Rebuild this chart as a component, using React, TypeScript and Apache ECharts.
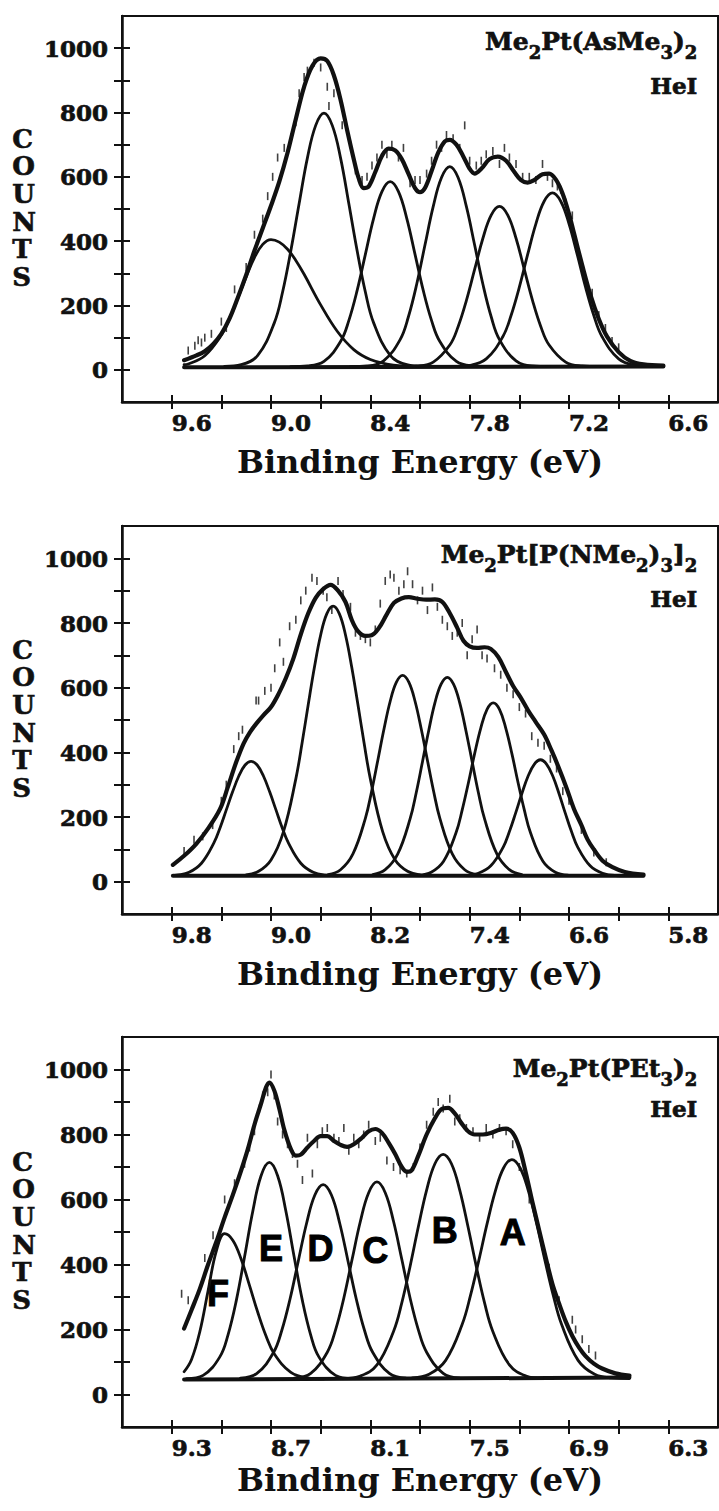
import React, { useEffect, useRef } from 'react';
import * as echarts from 'echarts';

type Pt = [number, number];

const INK = '#111111';
const SERIF = '"DejaVu Serif", "Liberation Serif", serif';
const SANS = '"Liberation Sans", Arial, sans-serif';

// ---------------- common axis values ----------------
const yTickValues = [0, 100, 200, 300, 400, 500, 600, 700, 800, 900, 1000];
const yLabelValues = [0, 200, 400, 600, 800, 1000];

// ---------------- Panel 1 : Me2Pt(AsMe3)2 ----------------
const p1Formula = '{m|Me}{s|2}{m|Pt(AsMe}{s|3}{m|)}{s|2}';
const p1XTicks = [6.6, 6.9, 7.2, 7.5, 7.8, 8.1, 8.4, 8.7, 9.0, 9.3, 9.6];
const p1XLabels = [6.6, 7.2, 7.8, 8.4, 9.0, 9.6];
const p1Baseline: Pt[] = [[9.525, 8], [6.63, 10]];
const p1Band1: Pt[] = [[9.525, 16], [9.5, 18], [9.4, 44], [9.3, 108], [9.25, 160], [9.2, 223], [9.15, 289], [9.1, 349], [9.05, 390], [9.0, 405], [8.95, 397], [8.9, 375], [8.85, 340], [8.8, 297], [8.7, 202], [8.6, 120], [8.5, 63], [8.4, 32], [8.3, 18], [8.2, 12], [8.1, 10]];
const p1Band2: Pt[] = [[9.28, 11], [9.18, 16], [9.08, 45], [8.98, 146], [8.93, 242], [8.88, 371], [8.83, 517], [8.78, 659], [8.73, 760], [8.68, 798], [8.63, 760], [8.58, 659], [8.53, 517], [8.48, 371], [8.43, 242], [8.38, 146], [8.28, 45], [8.18, 16], [8.08, 11]];
const p1Band3: Pt[] = [[8.88, 10], [8.78, 12], [8.68, 26], [8.58, 88], [8.53, 153], [8.48, 246], [8.43, 359], [8.38, 471], [8.33, 554], [8.28, 585], [8.23, 554], [8.18, 471], [8.13, 359], [8.08, 246], [8.03, 153], [7.98, 88], [7.88, 26], [7.78, 12], [7.68, 10]];
const p1Band4: Pt[] = [[8.52, 10], [8.42, 12], [8.32, 28], [8.22, 94], [8.17, 165], [8.12, 266], [8.07, 388], [8.02, 508], [7.97, 598], [7.92, 632], [7.87, 598], [7.82, 508], [7.77, 388], [7.72, 266], [7.67, 165], [7.62, 94], [7.52, 28], [7.42, 12], [7.32, 10]];
const p1Band5: Pt[] = [[8.22, 10], [8.12, 12], [8.02, 24], [7.92, 77], [7.87, 134], [7.82, 215], [7.77, 312], [7.72, 409], [7.67, 481], [7.62, 508], [7.57, 481], [7.52, 409], [7.47, 312], [7.42, 215], [7.37, 134], [7.32, 77], [7.22, 24], [7.12, 12], [7.02, 10]];
const p1Band6: Pt[] = [[7.9, 10], [7.8, 14], [7.7, 34], [7.6, 103], [7.55, 169], [7.5, 257], [7.45, 358], [7.4, 454], [7.35, 524], [7.3, 550], [7.25, 524], [7.2, 454], [7.15, 358], [7.1, 257], [7.05, 169], [7.0, 103], [6.9, 34], [6.8, 14], [6.7, 10]];
const p1Envelope: Pt[] = [[9.525, 30], [9.45, 45], [9.4, 58], [9.35, 80], [9.3, 112], [9.25, 160], [9.2, 225], [9.15, 295], [9.1, 370], [9.05, 440], [9.0, 510], [8.95, 585], [8.9, 675], [8.85, 780], [8.8, 880], [8.75, 945], [8.7, 968], [8.66, 960], [8.62, 915], [8.58, 840], [8.54, 745], [8.5, 655], [8.47, 595], [8.44, 565], [8.41, 570], [8.37, 615], [8.33, 665], [8.29, 688], [8.25, 682], [8.21, 655], [8.17, 610], [8.13, 565], [8.1, 552], [8.07, 565], [8.03, 618], [7.99, 675], [7.95, 710], [7.92, 715], [7.88, 700], [7.84, 665], [7.8, 625], [7.77, 610], [7.73, 625], [7.68, 655], [7.63, 663], [7.58, 650], [7.53, 615], [7.49, 590], [7.45, 582], [7.41, 590], [7.36, 608], [7.32, 610], [7.28, 592], [7.24, 550], [7.2, 485], [7.17, 425], [7.12, 325], [7.07, 232], [7.02, 158], [6.97, 103], [6.9, 55], [6.83, 28], [6.75, 17], [6.63, 13]];
const p1Counts: Pt[] = [[9.5, 60], [9.46, 75], [9.44, 92], [9.42, 85], [9.4, 100], [9.36, 112], [9.3, 150], [9.27, 130], [9.22, 250], [9.15, 320], [9.1, 420], [9.05, 470], [9.02, 540], [8.99, 600], [8.96, 660], [8.92, 690], [8.88, 722], [8.85, 770], [8.83, 860], [8.8, 910], [8.78, 930], [8.74, 955], [8.7, 940], [8.66, 880], [8.65, 820], [8.62, 860], [8.57, 760], [8.52, 700], [8.49, 620], [8.45, 590], [8.42, 600], [8.39, 635], [8.36, 660], [8.33, 700], [8.3, 670], [8.27, 700], [8.23, 660], [8.2, 690], [8.16, 580], [8.13, 590], [8.1, 590], [8.06, 610], [8.03, 650], [8.0, 700], [7.97, 690], [7.94, 730], [7.9, 720], [7.86, 690], [7.83, 760], [7.8, 650], [7.76, 635], [7.73, 650], [7.7, 670], [7.66, 680], [7.62, 640], [7.59, 690], [7.56, 660], [7.52, 640], [7.48, 600], [7.44, 600], [7.4, 590], [7.36, 640], [7.33, 600], [7.3, 580], [7.27, 570], [7.25, 560], [7.22, 520], [7.18, 480], [7.15, 380], [7.11, 300], [7.06, 240], [7.02, 170], [6.98, 130], [6.94, 90], [6.9, 70]];

// ---------------- Panel 2 : Me2Pt[P(NMe2)3]2 ----------------
const p2Formula = '{m|Me}{s|2}{m|Pt[P(NMe}{s|2}{m|)}{s|3}{m|]}{s|2}';
const p2XTicks = [5.8, 6.2, 6.6, 7.0, 7.4, 7.8, 8.2, 8.6, 9.0, 9.4, 9.8];
const p2XLabels = [5.8, 6.6, 7.4, 8.2, 9.0, 9.8];
const p2Baseline: Pt[] = [[9.79, 18], [6.0, 18]];
const p2Band1: Pt[] = [[9.79, 19], [9.76, 20], [9.66, 29], [9.56, 57], [9.46, 120], [9.41, 167], [9.36, 222], [9.31, 277], [9.26, 326], [9.21, 360], [9.16, 372], [9.11, 360], [9.06, 326], [9.01, 277], [8.96, 222], [8.91, 167], [8.86, 120], [8.76, 57], [8.66, 29], [8.56, 20], [8.46, 18]];
const p2Band2: Pt[] = [[9.2, 21], [9.1, 32], [9.0, 67], [8.9, 154], [8.8, 318], [8.75, 428], [8.7, 548], [8.65, 664], [8.6, 763], [8.55, 829], [8.5, 852], [8.45, 829], [8.4, 763], [8.35, 664], [8.3, 548], [8.25, 428], [8.2, 318], [8.1, 154], [8.0, 67], [7.9, 32], [7.8, 21]];
const p2Band3: Pt[] = [[8.54, 22], [8.44, 37], [8.34, 86], [8.24, 196], [8.19, 279], [8.14, 375], [8.09, 472], [8.04, 558], [7.99, 617], [7.94, 638], [7.89, 617], [7.84, 558], [7.79, 472], [7.74, 375], [7.69, 279], [7.64, 196], [7.54, 86], [7.44, 37], [7.34, 22]];
const p2Band4: Pt[] = [[8.18, 22], [8.08, 37], [7.98, 85], [7.88, 194], [7.83, 276], [7.78, 371], [7.73, 467], [7.68, 553], [7.63, 611], [7.58, 632], [7.53, 611], [7.48, 553], [7.43, 467], [7.38, 371], [7.33, 276], [7.28, 194], [7.18, 85], [7.08, 37], [6.98, 22]];
const p2Band5: Pt[] = [[7.81, 20], [7.71, 29], [7.61, 63], [7.51, 151], [7.46, 222], [7.41, 306], [7.36, 396], [7.31, 476], [7.26, 533], [7.21, 553], [7.16, 533], [7.11, 476], [7.06, 396], [7.01, 306], [6.96, 222], [6.91, 151], [6.81, 63], [6.71, 29], [6.61, 20]];
const p2Band6: Pt[] = [[7.43, 19], [7.33, 26], [7.23, 49], [7.13, 107], [7.08, 155], [7.03, 212], [6.98, 272], [6.93, 326], [6.88, 363], [6.83, 377], [6.78, 363], [6.73, 326], [6.68, 272], [6.63, 212], [6.58, 155], [6.53, 107], [6.43, 49], [6.33, 26], [6.23, 19], [6.0, 18]];
const p2Envelope: Pt[] = [[9.79, 52], [9.7, 80], [9.6, 118], [9.5, 168], [9.41, 225], [9.35, 290], [9.28, 370], [9.22, 428], [9.17, 462], [9.12, 488], [9.06, 515], [9.0, 540], [8.94, 580], [8.88, 630], [8.82, 690], [8.76, 765], [8.7, 830], [8.64, 878], [8.58, 905], [8.52, 918], [8.46, 900], [8.4, 865], [8.35, 810], [8.3, 775], [8.24, 760], [8.19, 762], [8.13, 785], [8.07, 825], [8.01, 862], [7.95, 876], [7.89, 880], [7.82, 875], [7.75, 872], [7.68, 873], [7.62, 865], [7.56, 830], [7.5, 785], [7.45, 745], [7.4, 728], [7.34, 723], [7.28, 725], [7.23, 720], [7.17, 695], [7.11, 650], [7.05, 605], [6.99, 570], [6.93, 530], [6.87, 495], [6.8, 455], [6.74, 405], [6.68, 350], [6.62, 290], [6.56, 225], [6.5, 175], [6.45, 130], [6.4, 100], [6.33, 65], [6.25, 45], [6.15, 30], [6.0, 22]];
const p2Counts: Pt[] = [[9.7, 95], [9.62, 130], [9.55, 140], [9.47, 175], [9.4, 250], [9.36, 300], [9.3, 410], [9.26, 450], [9.23, 470], [9.12, 560], [9.1, 560], [9.05, 590], [9.0, 600], [8.97, 660], [8.93, 740], [8.9, 680], [8.85, 790], [8.8, 810], [8.76, 870], [8.72, 900], [8.67, 940], [8.63, 930], [8.58, 900], [8.55, 880], [8.51, 840], [8.46, 930], [8.42, 890], [8.36, 850], [8.32, 770], [8.28, 760], [8.24, 750], [8.2, 740], [8.16, 780], [8.12, 860], [8.08, 930], [8.04, 950], [8.01, 940], [7.97, 900], [7.93, 920], [7.9, 960], [7.86, 920], [7.82, 870], [7.78, 900], [7.74, 840], [7.7, 910], [7.66, 850], [7.62, 810], [7.58, 790], [7.54, 760], [7.5, 770], [7.46, 800], [7.42, 700], [7.38, 750], [7.34, 780], [7.3, 700], [7.26, 690], [7.2, 660], [7.15, 640], [7.1, 600], [7.05, 580], [7.0, 540], [6.95, 520], [6.9, 450], [6.85, 430], [6.8, 420], [6.75, 380], [6.7, 350], [6.65, 280], [6.6, 250], [6.5, 160], [6.4, 90], [6.3, 60]];

// ---------------- Panel 3 : Me2Pt(PEt3)2 ----------------
const p3Formula = '{m|Me}{s|2}{m|Pt(PEt}{s|3}{m|)}{s|2}';
const p3XTicks = [6.3, 6.6, 6.9, 7.2, 7.5, 7.8, 8.1, 8.4, 8.7, 9.0, 9.3];
const p3XLabels = [6.3, 6.9, 7.5, 8.1, 8.7, 9.3];
const p3Baseline: Pt[] = [[9.225, 46], [6.535, 52]];
const p3BandF: Pt[] = [[9.225, 70], [9.18, 108], [9.13, 193], [9.08, 319], [9.03, 442], [8.98, 495], [8.93, 474], [8.88, 416], [8.83, 336], [8.78, 253], [8.73, 180], [8.68, 125], [8.58, 68], [8.48, 51], [8.38, 48]];
const p3BandE: Pt[] = [[9.21, 49], [9.11, 59], [9.01, 115], [8.96, 183], [8.91, 288], [8.86, 423], [8.81, 564], [8.76, 673], [8.71, 714], [8.66, 673], [8.61, 564], [8.56, 423], [8.51, 288], [8.46, 183], [8.41, 115], [8.31, 59], [8.21, 49]];
const p3BandD: Pt[] = [[8.885, 50], [8.785, 65], [8.685, 129], [8.635, 197], [8.585, 294], [8.535, 411], [8.485, 527], [8.435, 614], [8.385, 646], [8.335, 614], [8.285, 527], [8.235, 411], [8.185, 294], [8.135, 197], [8.085, 129], [7.985, 65], [7.885, 50]];
const p3BandC: Pt[] = [[8.56, 50], [8.46, 65], [8.36, 130], [8.31, 199], [8.26, 297], [8.21, 416], [8.16, 533], [8.11, 621], [8.06, 654], [8.01, 621], [7.96, 533], [7.91, 416], [7.86, 297], [7.81, 199], [7.76, 130], [7.66, 65], [7.56, 50]];
const p3BandB: Pt[] = [[8.26, 49], [8.16, 57], [8.06, 91], [7.96, 194], [7.91, 282], [7.86, 394], [7.81, 516], [7.76, 629], [7.71, 710], [7.66, 739], [7.61, 710], [7.56, 629], [7.51, 516], [7.46, 394], [7.41, 282], [7.36, 194], [7.26, 91], [7.16, 57], [7.06, 49]];
const p3BandA: Pt[] = [[7.845, 51], [7.745, 62], [7.645, 105], [7.545, 216], [7.495, 305], [7.445, 412], [7.395, 525], [7.345, 626], [7.295, 697], [7.245, 723], [7.195, 697], [7.145, 626], [7.095, 525], [7.045, 412], [6.995, 305], [6.945, 216], [6.845, 105], [6.745, 62], [6.645, 51], [6.535, 49]];
const p3Envelope: Pt[] = [[9.225, 203], [9.18, 260], [9.13, 325], [9.08, 400], [9.03, 470], [8.98, 545], [8.93, 615], [8.88, 690], [8.84, 755], [8.8, 830], [8.76, 895], [8.73, 945], [8.71, 960], [8.68, 935], [8.65, 880], [8.62, 815], [8.58, 755], [8.55, 735], [8.52, 738], [8.48, 760], [8.44, 780], [8.4, 795], [8.36, 795], [8.32, 780], [8.28, 768], [8.24, 762], [8.2, 770], [8.15, 790], [8.11, 810], [8.07, 817], [8.03, 805], [7.99, 775], [7.95, 740], [7.91, 700], [7.88, 685], [7.85, 690], [7.81, 735], [7.76, 800], [7.71, 850], [7.67, 878], [7.63, 882], [7.59, 865], [7.55, 835], [7.51, 810], [7.47, 800], [7.42, 800], [7.37, 805], [7.32, 815], [7.28, 818], [7.24, 805], [7.2, 760], [7.16, 680], [7.12, 590], [7.08, 505], [7.04, 420], [7.0, 340], [6.96, 280], [6.92, 225], [6.88, 180], [6.84, 145], [6.8, 118], [6.75, 95], [6.7, 80], [6.62, 65], [6.535, 58]];
const p3Counts: Pt[] = [[9.24, 310], [9.2, 290], [9.1, 420], [9.05, 490], [8.98, 600], [8.92, 650], [8.86, 710], [8.83, 760], [8.8, 810], [8.77, 880], [8.75, 920], [8.72, 930], [8.7, 985], [8.68, 920], [8.66, 840], [8.63, 800], [8.6, 770], [8.57, 740], [8.54, 710], [8.51, 660], [8.48, 790], [8.45, 680], [8.42, 770], [8.39, 810], [8.36, 820], [8.32, 790], [8.29, 780], [8.26, 820], [8.23, 750], [8.2, 790], [8.17, 770], [8.14, 800], [8.11, 830], [8.07, 780], [8.04, 790], [8.0, 720], [7.96, 700], [7.92, 690], [7.88, 680], [7.84, 700], [7.8, 760], [7.76, 830], [7.72, 870], [7.69, 900], [7.66, 880], [7.62, 910], [7.59, 840], [7.56, 850], [7.52, 820], [7.48, 810], [7.44, 790], [7.4, 820], [7.36, 800], [7.32, 820], [7.28, 810], [7.24, 770], [7.2, 700], [7.14, 600], [7.08, 510], [7.02, 390], [6.96, 290], [6.88, 230], [6.86, 200], [6.82, 170], [6.78, 140], [6.74, 120]];
const p3BandNames = ['F', 'E', 'D', 'C', 'B', 'A'];
const p3BandNamePos: Pt[] = [[9.02, 312], [8.7, 450], [8.4, 450], [8.07, 444], [7.65, 505], [7.24, 499]];

// ---------------- layout per panel ----------------
const panels = [
  { top: 16, height: 386, xMin: 6.3, xMax: 9.9, xStep: 0.3, xTicks: p1XTicks, xLabels: p1XLabels, nameGap: 44, formula: p1Formula, fTop: 26, hTop: 74, baseline: p1Baseline, bands: [p1Band1, p1Band2, p1Band3, p1Band4, p1Band5, p1Band6], envelope: p1Envelope, counts: p1Counts },
  { top: 526, height: 388, xMin: 5.4, xMax: 10.2, xStep: 0.4, xTicks: p2XTicks, xLabels: p2XLabels, nameGap: 44, formula: p2Formula, fTop: 539, hTop: 587, baseline: p2Baseline, bands: [p2Band1, p2Band2, p2Band3, p2Band4, p2Band5, p2Band6], envelope: p2Envelope, counts: p2Counts },
  { top: 1037, height: 390, xMin: 6.0, xMax: 9.6, xStep: 0.3, xTicks: p3XTicks, xLabels: p3XLabels, nameGap: 37, formula: p3Formula, fTop: 1053, hTop: 1097, baseline: p3Baseline, bands: [p3BandF, p3BandE, p3BandD, p3BandC, p3BandB, p3BandA], envelope: p3Envelope, counts: p3Counts },
];

const heavy = { textBorderColor: INK, textBorderWidth: 0.7 };

function buildOption() {
  const grid: any[] = [];
  const xAxis: any[] = [];
  const yAxis: any[] = [];
  const series: any[] = [];
  const title: any[] = [];
  const graphic: any[] = [];

  panels.forEach((p, i) => {
    grid.push({ left: 122, width: 596, top: p.top, height: p.height, show: true, borderColor: INK, borderWidth: 2, backgroundColor: 'transparent' });
    const xCommon = { type: 'value', gridIndex: i, inverse: true, min: p.xMin, max: p.xMax, interval: p.xStep, position: 'bottom', splitLine: { show: false } };
    xAxis.push({
      ...xCommon,
      axisLine: { show: true, onZero: false, lineStyle: { color: INK, width: 2.5 } },
      axisTick: { show: true, inside: false, length: 7, customValues: p.xTicks, lineStyle: { color: INK, width: 2 } },
      axisLabel: { show: true, customValues: p.xLabels, formatter: (v: number) => v.toFixed(1), fontFamily: SERIF, fontWeight: 'bold', fontSize: 23, color: INK, margin: 9, align: 'left', ...heavy },
      name: 'Binding Energy (eV)', nameLocation: 'middle', nameGap: p.nameGap,
      nameTextStyle: { fontFamily: SERIF, fontWeight: 'bold', fontSize: 32, color: INK },
    });
    xAxis.push({
      ...xCommon,
      axisLine: { show: false, onZero: false },
      axisTick: { show: true, inside: true, length: 7, customValues: p.xTicks, lineStyle: { color: INK, width: 2 } },
      axisLabel: { show: false },
    });
    const yCommon = { type: 'value', gridIndex: i, min: -100, max: 1100, interval: 100, position: 'left', splitLine: { show: false } };
    yAxis.push({
      ...yCommon,
      axisLine: { show: true, onZero: false, lineStyle: { color: INK, width: 2.5 } },
      axisTick: { show: true, inside: false, length: 8, customValues: yTickValues, lineStyle: { color: INK, width: 2 } },
      axisLabel: { show: true, customValues: yLabelValues, formatter: (v: number) => String(v), fontFamily: SERIF, fontWeight: 'bold', fontSize: 23, color: INK, margin: 14, ...heavy },
    });
    yAxis.push({
      ...yCommon,
      axisLine: { show: false, onZero: false },
      axisTick: { show: true, inside: true, length: 8, customValues: yTickValues, lineStyle: { color: INK, width: 2 } },
      axisLabel: { show: false },
    });

    const xi = 2 * i;
    const line = (data: Pt[], width: number, smooth: number | boolean) => ({
      type: 'line', xAxisIndex: xi, yAxisIndex: xi, data, symbol: 'none', smooth, silent: true,
      lineStyle: { color: INK, width, cap: 'round', join: 'round' },
    });
    series.push(line(p.baseline, 4, false));
    p.bands.forEach((b) => series.push(line(b, 2.8, 0.4)));
    series.push(line(p.envelope, 4.2, 0.35));
    series.push({
      type: 'scatter', xAxisIndex: xi, yAxisIndex: xi, data: p.counts, symbol: 'rect', symbolSize: [1.6, 8], silent: true,
      itemStyle: { color: INK },
    });

    title.push({
      text: p.formula, right: 21, top: p.fTop, padding: 0,
      textStyle: {
        rich: {
          m: { fontFamily: SERIF, fontWeight: 'bold', fontSize: 25, lineHeight: 30, color: INK, ...heavy },
          s: { fontFamily: SERIF, fontWeight: 'bold', fontSize: 18, lineHeight: 30, color: INK, padding: [22, 0, 0, 0], ...heavy },
        },
      },
    });
    title.push({ text: 'HeI', right: 21, top: p.hTop, padding: 0, textStyle: { fontFamily: SERIF, fontWeight: 'bold', fontSize: 23, color: INK, ...heavy } });

    graphic.push({
      type: 'text', left: 12, top: p.top + p.height / 2 - 84,
      style: { text: 'C\nO\nU\nN\nT\nS', font: `bold 26px ${SERIF}`, fill: INK, lineHeight: 27.6, textAlign: 'left', align: 'left', stroke: INK, lineWidth: 0.6 },
    });
  });

  // band letters on panel 3
  series.push({
    type: 'scatter', xAxisIndex: 4, yAxisIndex: 4, symbol: 'circle', symbolSize: 0.1, silent: true, itemStyle: { color: '#000', opacity: 1 },
    data: p3BandNames.map((n, k) => ({ name: n, value: p3BandNamePos[k] })),
    label: { show: true, position: [0, 0], align: 'center', verticalAlign: 'middle', formatter: '{b}', fontFamily: SANS, fontWeight: 'bold', fontSize: 36, color: '#000', textBorderColor: '#000', textBorderWidth: 1 },
  });

  return { animation: false, backgroundColor: '#ffffff', grid, xAxis, yAxis, series, title, graphic };
}

export default function App() {
  const ref = useRef<HTMLDivElement>(null);
  useEffect(() => {
    document.body.style.margin = '0';
    const chart = echarts.init(ref.current as HTMLDivElement, null, { renderer: 'svg' });
    chart.setOption(buildOption() as any);
    return () => chart.dispose();
  }, []);
  return <div ref={ref} style={{ position: 'absolute', left: 0, top: 0, width: 719, height: 1511, background: '#fff' }} />;
}
